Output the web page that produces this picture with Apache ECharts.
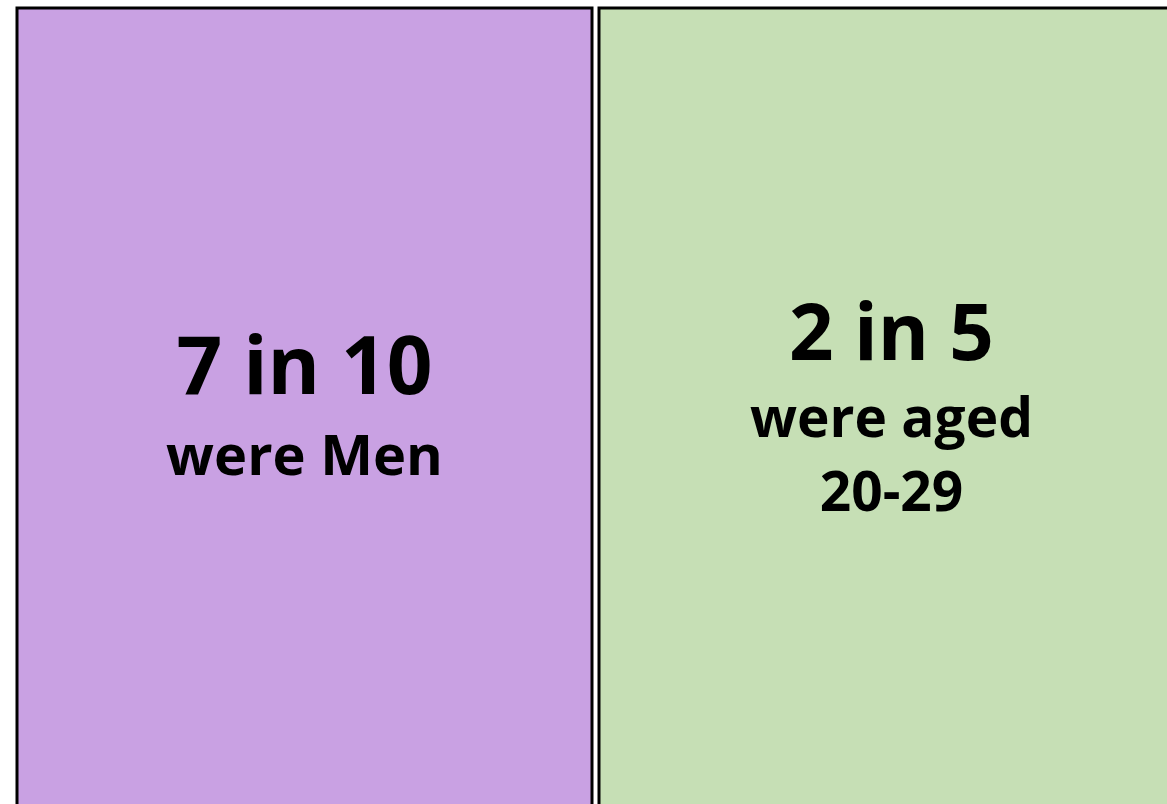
<!DOCTYPE html>
<html>
<head>
<meta charset="utf-8">
<script src="https://cdn.jsdelivr.net/npm/echarts@6/dist/echarts.min.js"></script>
<style>
  html, body { margin: 0; padding: 0; background: #ffffff; }
  #main { width: 1167px; height: 804px; }
</style>
</head>
<body>
<div id="main"></div>
<script>
// panel data
var panelNames = ['Men', 'Aged 20-29'];
var panelHeights = [1, 1];            // each panel fills the full height
var headlines = ['7 in 10', '2 in 5'];
var captions = [['were Men'], ['were aged', '20-29']];
var panelColors = ['#c9a1e3', '#c6dfb5'];

var myChart = echarts.init(document.getElementById('main'));

// label offsets (from top of each panel) and line heights
var labelTops = [321, 284];
var labelShift = [0, 5];
var headLineHeights = [88, 94];
var capLineHeights = [88, 74];

function buildLabel(i)
{
    var text = '{a|' + headlines[i] + '}';
    for (var k = 0; k < captions[i].length; k++) {
        text += '\n{b|' + captions[i][k] + '}';
    }
    return {
        show: true,
        position: ['50%', labelTops[i]],
        offset: [labelShift[i], 0],
        align: 'center',
        verticalAlign: 'top',
        formatter: text,
        rich: {
            a: {
                fontFamily: 'Open Sans',
                fontWeight: 'bold',
                fontSize: i === 0 ? 80 : 78,
                color: '#000',
                lineHeight: headLineHeights[i],
                align: 'center'
            },
            b: {
                fontFamily: 'Open Sans',
                fontWeight: 'bold',
                fontSize: i === 0 ? 56 : 55,
                color: '#000',
                lineHeight: capLineHeights[i],
                align: 'center'
            }
        }
    };
}

var seriesData = [];
for (var i = 0; i < panelNames.length; i++) {
    seriesData.push({
        value: panelHeights[i],
        itemStyle: {
            color: panelColors[i],
            borderColor: '#000',
            borderWidth: 3
        },
        label: buildLabel(i)
    });
}

var option = {
    animation: false,
    backgroundColor: '#ffffff',
    grid: {
        left: 13.5,
        right: -10.5,
        top: 6.5,
        bottom: -12,
        outerBoundsMode: 'none',
        containLabel: false
    },
    xAxis: {
        type: 'category',
        data: panelNames,
        show: false
    },
    yAxis: {
        type: 'value',
        min: 0,
        max: 1,
        show: false
    },
    series: [
        {
            type: 'bar',
            data: seriesData,
            barWidth: 578,
            silent: true
        }
    ]
};

myChart.setOption(option);
</script>
</body>
</html>
